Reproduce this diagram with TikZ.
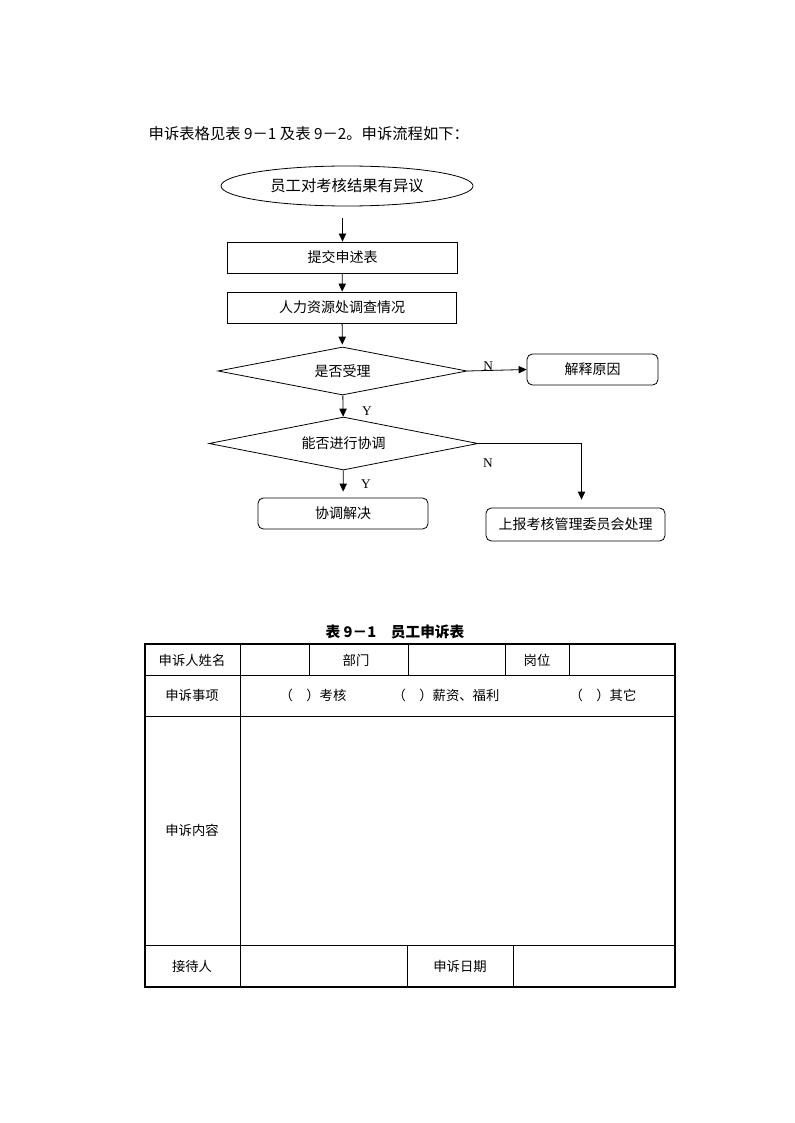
\documentclass[tikz,border=0pt]{standalone}
\usepackage{fontspec}
\setmainfont{Noto Sans CJK SC}
\newfontfamily\latin{Liberation Serif}
\usetikzlibrary{arrows.meta,shapes.geometric}

\begin{document}
\begin{tikzpicture}[x=0.75pt, y=-0.75pt
        , every node/.style={font=\fontsize{10.5pt}{12pt}\selectfont}
        , box/.style={draw, line width=0.6pt, minimum width=172pt, minimum height=23.25pt}
        , rbox/.style={box, rounded corners=4pt}
        , dia/.style={diamond, draw, line width=0.6pt, inner sep=0pt}
        , arr/.style={-{Triangle[length=6pt,width=5.5pt]}, line width=0.6pt}
        , yn/.style={font=\latin\fontsize{10pt}{11pt}\selectfont}
        , cell/.style={font=\fontsize{10pt}{12pt}\selectfont} ]

    \useasboundingbox (0,0) rectangle (794,1123);

    \node[anchor=west, font=\fontsize{11.5pt}{13pt}\selectfont] (intro) at (144,134)
        {申诉表格见表 9－1 及表 9－2。申诉流程如下：};

    % flow chart
    \node[ellipse, draw, line width=0.6pt, minimum width=189pt, minimum height=30pt
        , font=\fontsize{11.5pt}{13pt}\selectfont] (ell) at (347,186) {员工对考核结果有异议};
    \node[box] (b1) at (342.5,257.5) {提交申述表};
    \node[box] (b2) at (342,307.5) {人力资源处调查情况};
    \node[dia, shape aspect=5.19, minimum width=186.75pt, minimum height=36pt] (d1) at (342.5,371) {是否受理};
    \node[rbox, minimum width=98.25pt] (r1) at (592.5,369.5) {解释原因};
    \node[dia, shape aspect=5.08, minimum width=201.75pt, minimum height=39.75pt] (d2) at (343.5,443.5) {能否进行协调};
    \node[rbox, minimum width=127.5pt] (r2) at (343,513.5) {协调解决};
    \node[rbox, minimum width=134.25pt, minimum height=24.75pt] (r3) at (575.5,524.5) {上报考核管理委员会处理};

    \draw[arr, shorten <=9pt] (ell.south -| b1.north) -- (b1.north);
    \draw[arr] (b1) -- (b2);
    \draw[arr, shorten >=1.5pt] (b2) -- (d1);
    \draw[arr] (d1.east) -- node[yn, above, pos=0.35, inner sep=0pt] {N} (r1.west);
    \draw[arr] (d1) -- node[yn, pos=0.72, xshift=18pt] {Y} (d2);
    \draw[arr, shorten >=4.5pt] (d2) -- node[yn, pos=0.5, xshift=17pt] {Y} (r2);
    \draw[arr, shorten >=6pt] (d2.east) -| ([xshift=4.5pt]r3.north);
    \node[yn] (n2) at (488,463) {N};

    % table 9-1
    \node[font=\bfseries\fontsize{11pt}{13pt}\selectfont] (ttl) at (395,632) {表 9－1　员工申诉表};

    \draw[line width=1.5pt] (145,644) rectangle (675,987);
    \draw[line width=0.75pt] (145,675) -- (675,675) (145,716) -- (675,716)
        (145,945) -- (675,945) (240,644) -- (240,987);
    \foreach \x in {309,408,505,569}
        \draw[line width=0.75pt] (\x,644) -- (\x,675);
    \foreach \x in {407,513}
        \draw[line width=0.75pt] (\x,945) -- (\x,987);

    \foreach \t/\y in {申诉人姓名/660,申诉事项/695,申诉内容/830,接待人/966}
        \node[cell] at (192,\y) {\t};
    \node[cell] (dept) at (356,660) {部门};
    \node[cell] (post) at (537,660) {岗位};
    \node[cell] (k1) at (313,695) {（　）考核};
    \node[cell] (k2) at (446,695) {（　）薪资、福利};
    \node[cell] (k3) at (603,695) {（　）其它};
    \node[cell] (date) at (460,966) {申诉日期};

\end{tikzpicture}
\end{document}
